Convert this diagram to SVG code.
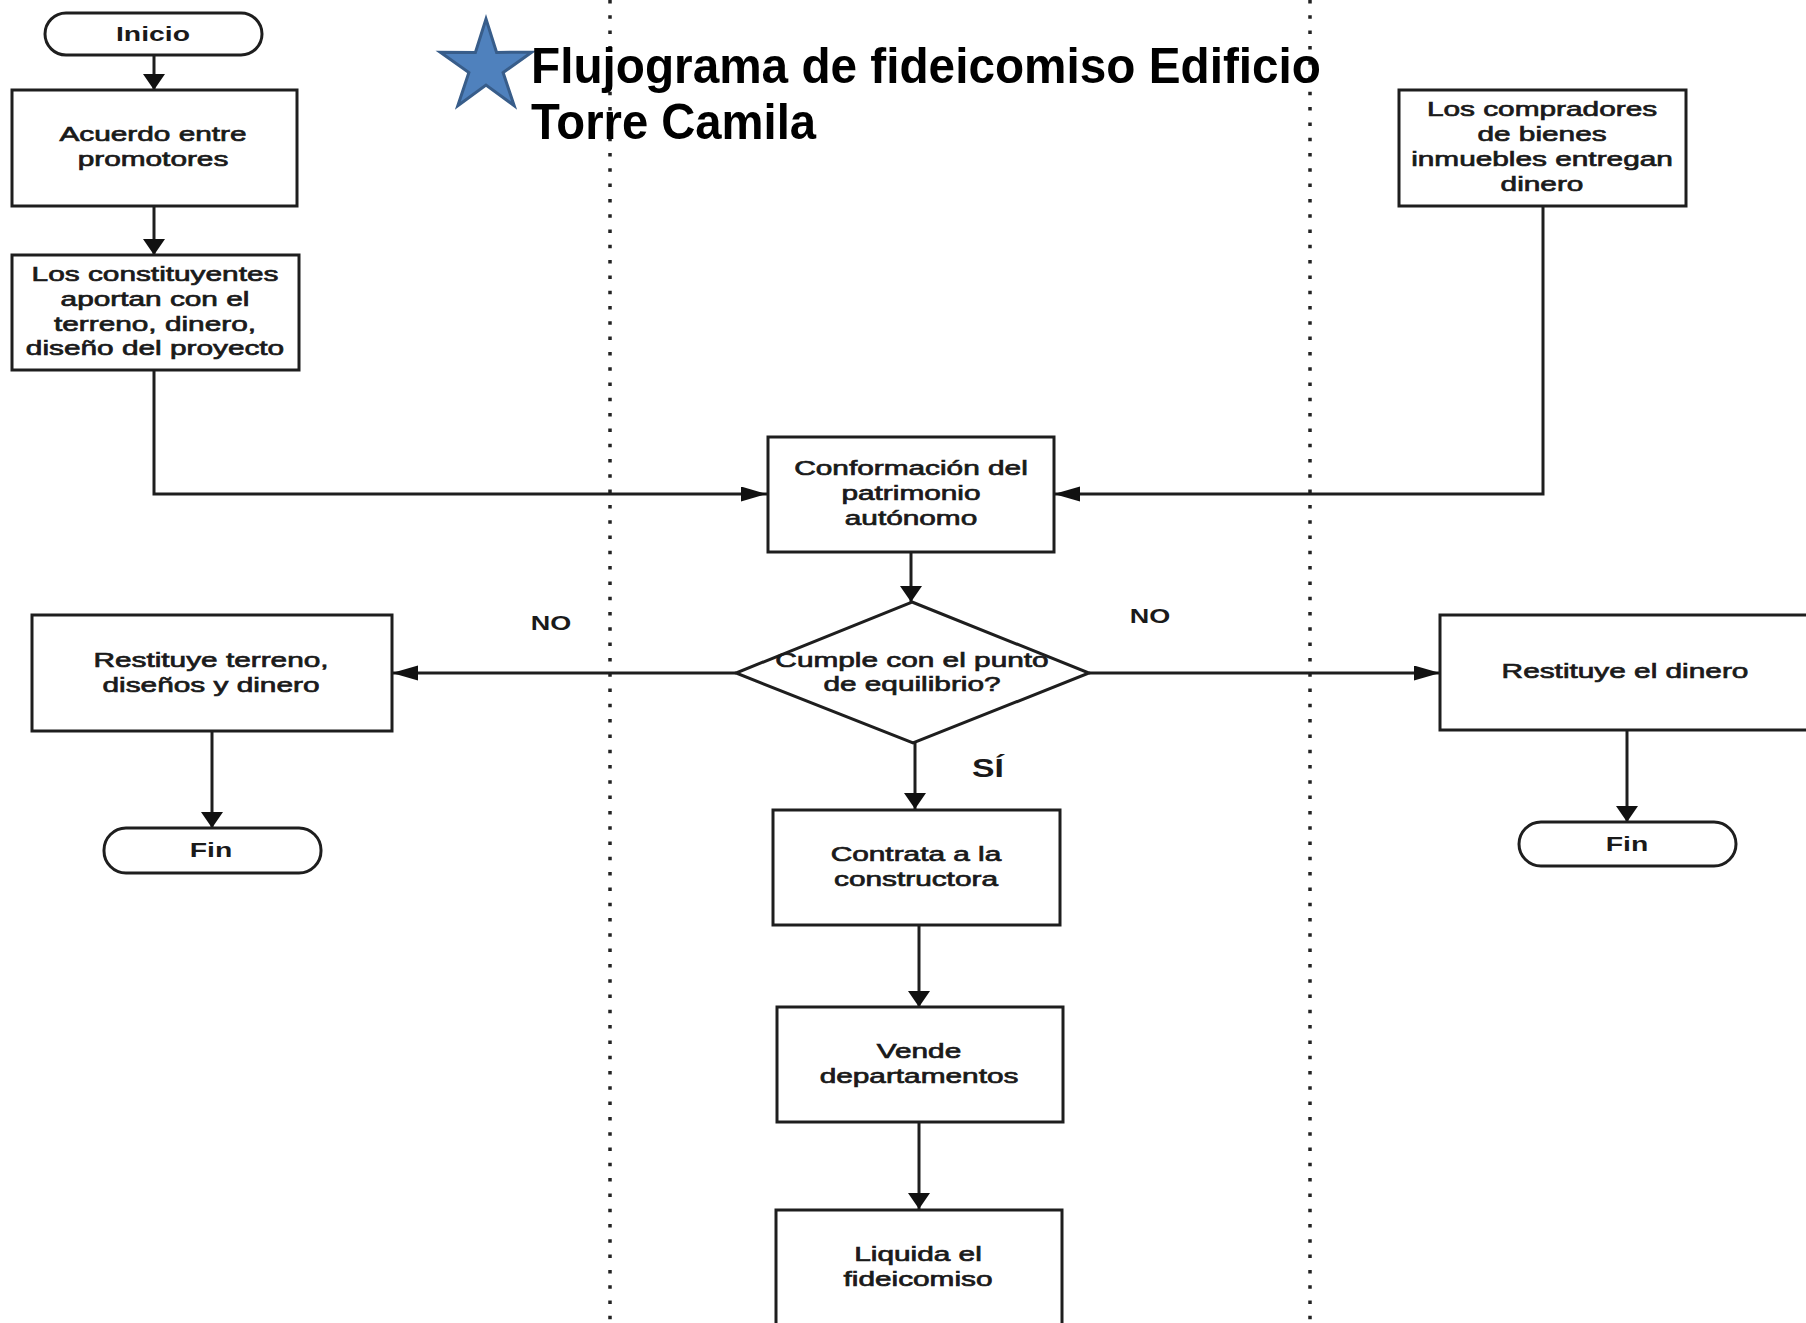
<svg xmlns="http://www.w3.org/2000/svg" width="1806" height="1323" viewBox="0 0 1806 1323">
  <style>
    .box { fill: #ffffff; stroke: #1e1e1e; stroke-width: 3; }
    .lane { stroke: #222222; stroke-width: 3.5; stroke-dasharray: 3.5 11.8; fill: none; }
    .edge { stroke: #1e1e1e; stroke-width: 3; fill: none; }
    .t { font-family: "Liberation Sans", Arial, sans-serif; font-size: 21px; fill: #1a1a1a; stroke: #1a1a1a; stroke-width: 0.7; text-anchor: middle; }
    .lbl { font-family: "Liberation Sans", Arial, sans-serif; font-weight: bold; fill: #1a1a1a; text-anchor: middle; }
    .title { font-family: "Liberation Sans", Arial, sans-serif; font-weight: bold; font-size: 50px; fill: #000000; }
  </style>
  <defs>
    <marker id="arrowV" markerUnits="userSpaceOnUse" markerWidth="17" markerHeight="23" refX="16" refY="11" orient="auto">
      <path d="M0,0 L16,11 L0,22 z" fill="#111111"/>
    </marker>
    <marker id="arrowH" markerUnits="userSpaceOnUse" markerWidth="27" markerHeight="16" refX="26" refY="7.5" orient="auto">
      <path d="M0,0 L26,7.5 L0,15 z" fill="#111111"/>
    </marker>
  </defs>

  <rect width="1806" height="1323" fill="#ffffff"/>

  <!-- swimlane separators -->
  <g id="lanes">
    <line class="lane" x1="610" y1="0" x2="610" y2="1323"/>
    <line class="lane" x1="1310" y1="0" x2="1310" y2="1323"/>
  </g>

  <!-- title -->
  <g id="title">
    <polygon points="486,19 496.6,52.4 531.7,52.2 503.1,72.6 514.2,105.8 486,85 457.8,105.8 468.9,72.6 440.3,52.2 475.4,52.4" fill="#4f81bd" stroke="#385d8a" stroke-width="3" stroke-linejoin="miter"/>
    <text class="title" x="531" y="83" textLength="790" lengthAdjust="spacingAndGlyphs">Flujograma de fideicomiso Edificio</text>
    <text class="title" x="531" y="139" textLength="285" lengthAdjust="spacingAndGlyphs">Torre Camila</text>
  </g>

  <!-- connectors -->
  <g id="connectors">
    <line class="edge" x1="154" y1="55" x2="154" y2="90" marker-end="url(#arrowV)"/>
    <line class="edge" x1="154" y1="206" x2="154" y2="255" marker-end="url(#arrowV)"/>
    <polyline class="edge" points="154,370 154,494 767,494" marker-end="url(#arrowH)"/>
    <polyline class="edge" points="1543,206 1543,494 1054,494" marker-end="url(#arrowH)"/>
    <line class="edge" x1="911" y1="552" x2="911" y2="602" marker-end="url(#arrowV)"/>
    <line class="edge" x1="736" y1="673" x2="392" y2="673" marker-end="url(#arrowH)"/>
    <line class="edge" x1="1089" y1="673" x2="1440" y2="673" marker-end="url(#arrowH)"/>
    <line class="edge" x1="212" y1="731" x2="212" y2="828" marker-end="url(#arrowV)"/>
    <line class="edge" x1="1627" y1="730" x2="1627" y2="822" marker-end="url(#arrowV)"/>
    <line class="edge" x1="915" y1="743" x2="915" y2="809" marker-end="url(#arrowV)"/>
    <line class="edge" x1="919" y1="925" x2="919" y2="1007" marker-end="url(#arrowV)"/>
    <line class="edge" x1="919" y1="1122" x2="919" y2="1209" marker-end="url(#arrowV)"/>
  </g>

  <!-- nodes -->
  <g id="n-inicio">
    <rect class="box" x="45" y="13" width="217" height="42" rx="21" ry="21"/>
    <text class="lbl" font-size="21" transform="translate(153 0) scale(1.35 1)" x="0" y="41">Inicio</text>
  </g>

  <g id="n-acuerdo">
    <rect class="box" x="12" y="90" width="285" height="116"/>
    <text class="t" transform="translate(153 0) scale(1.42 1)"><tspan x="0" y="141">Acuerdo entre</tspan><tspan x="0" y="166">promotores</tspan></text>
  </g>

  <g id="n-constituyentes">
    <rect class="box" x="12" y="255" width="287" height="115"/>
    <text class="t" transform="translate(155 0) scale(1.42 1)"><tspan x="0" y="281">Los constituyentes</tspan><tspan x="0" y="306">aportan con el</tspan><tspan x="0" y="331">terreno, dinero,</tspan><tspan x="0" y="355">diseño del proyecto</tspan></text>
  </g>

  <g id="n-compradores">
    <rect class="box" x="1399" y="90" width="287" height="116"/>
    <text class="t" transform="translate(1542 0) scale(1.42 1)"><tspan x="0" y="116">Los compradores</tspan><tspan x="0" y="141">de bienes</tspan><tspan x="0" y="166">inmuebles entregan</tspan><tspan x="0" y="191">dinero</tspan></text>
  </g>

  <g id="n-patrimonio">
    <rect class="box" x="768" y="437" width="286" height="115"/>
    <text class="t" transform="translate(911 0) scale(1.42 1)"><tspan x="0" y="475">Conformación del</tspan><tspan x="0" y="500">patrimonio</tspan><tspan x="0" y="525">autónomo</tspan></text>
  </g>

  <g id="n-decision">
    <polygon class="box" points="912,602 1089,673 913,743 736,673"/>
    <text class="t" transform="translate(912 0) scale(1.42 1)"><tspan x="0" y="667">Cumple con el punto</tspan><tspan x="0" y="691">de equilibrio?</tspan></text>
  </g>

  <g id="n-restituye-terreno">
    <rect class="box" x="32" y="615" width="360" height="116"/>
    <text class="t" transform="translate(211 0) scale(1.42 1)"><tspan x="0" y="667">Restituye terreno,</tspan><tspan x="0" y="692">diseños y dinero</tspan></text>
  </g>

  <g id="n-restituye-dinero">
    <rect class="box" x="1440" y="615" width="380" height="115"/>
    <text class="t" transform="translate(1625 0) scale(1.42 1)" x="0" y="678">Restituye el dinero</text>
  </g>

  <g id="n-fin-izq">
    <rect class="box" x="104" y="828" width="217" height="45" rx="22" ry="22"/>
    <text class="lbl" font-size="21" transform="translate(211 0) scale(1.35 1)" x="0" y="857">Fin</text>
  </g>

  <g id="n-fin-der">
    <rect class="box" x="1519" y="822" width="217" height="44" rx="22" ry="22"/>
    <text class="lbl" font-size="21" transform="translate(1627 0) scale(1.35 1)" x="0" y="851">Fin</text>
  </g>

  <g id="n-constructora">
    <rect class="box" x="773" y="810" width="287" height="115"/>
    <text class="t" transform="translate(916 0) scale(1.42 1)"><tspan x="0" y="861">Contrata a la</tspan><tspan x="0" y="886">constructora</tspan></text>
  </g>

  <g id="n-vende">
    <rect class="box" x="777" y="1007" width="286" height="115"/>
    <text class="t" transform="translate(919 0) scale(1.42 1)"><tspan x="0" y="1058">Vende</tspan><tspan x="0" y="1083">departamentos</tspan></text>
  </g>

  <g id="n-liquida">
    <rect class="box" x="776" y="1210" width="286" height="130"/>
    <text class="t" transform="translate(918 0) scale(1.42 1)"><tspan x="0" y="1261">Liquida el</tspan><tspan x="0" y="1286">fideicomiso</tspan></text>
  </g>

  <!-- branch labels -->
  <g id="branch-labels">
    <text class="lbl" font-size="20" transform="translate(551 0) scale(1.35 1)" x="0" y="630">NO</text>
    <text class="lbl" font-size="20" transform="translate(1150 0) scale(1.35 1)" x="0" y="623">NO</text>
    <text class="lbl" font-size="25" transform="translate(988 0) scale(1.35 1)" x="0" y="777">SÍ</text>
  </g>
</svg>
